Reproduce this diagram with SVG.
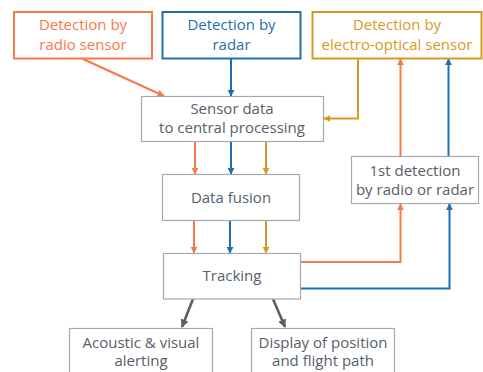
<svg xmlns="http://www.w3.org/2000/svg" width="483" height="372" viewBox="0 0 483 372">
  <style>
    text { font-family: "Open Sans", "Liberation Sans", Arial, sans-serif; font-size: 15px; text-anchor: middle; }
    .box { fill: #ffffff; stroke: #a3a9ae; stroke-width: 1.2; }
    .gray { fill: #56606a; }
    .ln { fill: none; stroke-width: 2; }
    .o { stroke: #f7794a; }
    .b { stroke: #1f6fae; }
    .y { stroke: #d79a1f; }
    .g { stroke: #56606a; stroke-width: 2.6; }
  </style>
  <defs>
    <marker id="ao" viewBox="0 0 10 10" refX="9" refY="5" markerWidth="3.6" markerHeight="3.6" orient="auto"><path d="M0,0 L10,5 L0,10 z" fill="#f7794a"/></marker>
    <marker id="ab" viewBox="0 0 10 10" refX="9" refY="5" markerWidth="3.6" markerHeight="3.6" orient="auto"><path d="M0,0 L10,5 L0,10 z" fill="#1f6fae"/></marker>
    <marker id="ay" viewBox="0 0 10 10" refX="9" refY="5" markerWidth="3.6" markerHeight="3.6" orient="auto"><path d="M0,0 L10,5 L0,10 z" fill="#d79a1f"/></marker>
    <marker id="ag" viewBox="0 0 10 10" refX="9" refY="5" markerWidth="3.2" markerHeight="3.2" orient="auto"><path d="M0,0 L10,5 L0,10 z" fill="#56606a"/></marker>
  </defs>

  <!-- connectors -->
  <g id="connectors">
    <line class="ln o" x1="83" y1="59" x2="164" y2="96" marker-end="url(#ao)"/>
    <line class="ln b" x1="231" y1="59" x2="231" y2="96" marker-end="url(#ab)"/>
    <polyline class="ln y" points="358,59 358,118.5 324,118.5" marker-end="url(#ay)"/>

    <line class="ln o" x1="195" y1="142" x2="195" y2="174" marker-end="url(#ao)"/>
    <line class="ln b" x1="231" y1="142" x2="231" y2="174" marker-end="url(#ab)"/>
    <line class="ln y" x1="266" y1="142" x2="266" y2="174" marker-end="url(#ay)"/>

    <line class="ln o" x1="194" y1="221" x2="194" y2="253" marker-end="url(#ao)"/>
    <line class="ln b" x1="230" y1="221" x2="230" y2="253" marker-end="url(#ab)"/>
    <line class="ln y" x1="266" y1="221" x2="266" y2="253" marker-end="url(#ay)"/>

    <polyline class="ln o" points="301,262 400.5,262 400.5,204" marker-end="url(#ao)"/>
    <polyline class="ln b" points="301,288.5 449.5,288.5 449.5,204" marker-end="url(#ab)"/>
    <line class="ln o" x1="400.5" y1="156" x2="400.5" y2="59" marker-end="url(#ao)"/>
    <line class="ln b" x1="448.5" y1="156" x2="448.5" y2="59" marker-end="url(#ab)"/>

    <line class="ln g" x1="193" y1="299" x2="182" y2="327" marker-end="url(#ag)"/>
    <line class="ln g" x1="273" y1="299" x2="285" y2="327" marker-end="url(#ag)"/>
  </g>

  <!-- nodes -->
  <g id="radio-sensor">
    <rect x="14" y="12" width="138" height="46.5" fill="#fff" stroke="#f7794a" stroke-width="2"/>
    <text x="83" y="29.5" fill="#f7794a">Detection by</text>
    <text x="83" y="49.5" fill="#f7794a">radio sensor</text>
  </g>
  <g id="radar">
    <rect x="162.5" y="12" width="138" height="46.5" fill="#fff" stroke="#1f6fae" stroke-width="2"/>
    <text x="231.5" y="29.5" fill="#1f6fae">Detection by</text>
    <text x="231.5" y="49.5" fill="#1f6fae">radar</text>
  </g>
  <g id="electro-optical">
    <rect x="312.5" y="12" width="169" height="46.5" fill="#fff" stroke="#d79a1f" stroke-width="2"/>
    <text x="397" y="29.5" fill="#d79a1f">Detection by</text>
    <text x="397" y="49.5" fill="#d79a1f">electro-optical sensor</text>
  </g>
  <g id="sensor-data">
    <rect class="box" x="141.5" y="96.5" width="182" height="45"/>
    <text class="gray" x="232" y="113.5">Sensor data</text>
    <text class="gray" x="232" y="132.5">to central processing</text>
  </g>
  <g id="data-fusion">
    <rect class="box" x="162.5" y="174.5" width="137" height="46"/>
    <text class="gray" x="231" y="203">Data fusion</text>
  </g>
  <g id="first-detection">
    <rect class="box" x="351.5" y="156.5" width="127" height="47"/>
    <text class="gray" x="415" y="175.5">1st detection</text>
    <text class="gray" x="415" y="194.5">by radio or radar</text>
  </g>
  <g id="tracking">
    <rect class="box" x="163.5" y="253.5" width="137" height="45.5"/>
    <text class="gray" x="232" y="280.5">Tracking</text>
  </g>
  <g id="alerting">
    <rect class="box" x="69.5" y="328.5" width="143" height="50"/>
    <text class="gray" x="141" y="347.5">Acoustic &amp; visual</text>
    <text class="gray" x="141" y="366">alerting</text>
  </g>
  <g id="display">
    <rect class="box" x="251.5" y="328.5" width="143" height="50"/>
    <text class="gray" x="323" y="347.5">Display of position</text>
    <text class="gray" x="323" y="366">and flight path</text>
  </g>
</svg>
